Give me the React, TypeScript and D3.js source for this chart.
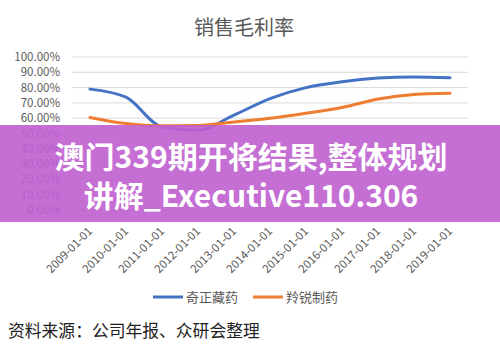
import React from "react";
import * as d3 from "d3";

const categories = ["2009-01-01","2010-01-01","2011-01-01","2012-01-01","2013-01-01","2014-01-01","2015-01-01","2016-01-01","2017-01-01","2018-01-01","2019-01-01"];
const qizheng = [0.79, 0.737, 0.543, 0.522, 0.62, 0.728, 0.80, 0.838, 0.862, 0.87, 0.865];
const lingrui = [0.605, 0.565, 0.55, 0.553, 0.575, 0.60, 0.633, 0.67, 0.725, 0.755, 0.763];
const yTicks = [0, 0.1, 0.2, 0.3, 0.4, 0.5, 0.6, 0.7, 0.8, 0.9, 1.0];
const seriesNames = ["奇正藏药", "羚锐制药"];
const seriesColors = ["#4472C4", "#ED7D31"];

export default function App() {
  const W = 500, H = 351;
  const x = d3.scaleBand<string>().domain(categories).range([72, 468]);
  const y = d3.scaleLinear().domain([0, 1]).range([210, 57]);
  const line = d3.line<number>()
    .x((_, i) => (x(categories[i]) as number) + x.bandwidth() / 2)
    .y((d) => y(d))
    .curve(d3.curveMonotoneX);
  const fmt = d3.format(".2%");
  const series = [qizheng, lingrui];
  const font = "'Microsoft YaHei','Noto Sans CJK SC','Noto Sans',sans-serif";
  return (
    <svg width={W} height={H} style={{ position: "absolute", left: 0, top: 0, background: "#fff" }} fontFamily={font}>
      <rect x={0} y={0} width={W} height={H} fill="#fff" />
      <text x={244} y={35} textAnchor="middle" fontSize={20} fill="#595959">销售毛利率</text>
      {yTicks.map((t) => (
        <g key={t}>
          <line x1={72} x2={468} y1={y(t)} y2={y(t)} stroke={t === 0 ? "#BFBFBF" : "#D9D9D9"} strokeWidth={1} />
          <text x={60} y={y(t) + 4} textAnchor="end" fontSize={11.5} fill="#595959">{fmt(t)}</text>
        </g>
      ))}
      {categories.concat([""]).map((_, i) => {
        const xx = 72 + i * x.step();
        return <line key={"t" + i} x1={xx} x2={xx} y1={210} y2={215} stroke="#BFBFBF" />;
      })}
      {categories.map((c) => {
        const cx = (x(c) as number) + x.bandwidth() / 2 + 3;
        return (
          <text key={c} transform={`translate(${cx},${232}) rotate(-45)`} textAnchor="end" fontSize={11.5} fill="#595959">{c}</text>
        );
      })}
      {series.map((s, i) => (
        <path key={i} d={line(s) || ""} fill="none" stroke={seriesColors[i]} strokeWidth={3} strokeLinecap="round" />
      ))}
      {seriesNames.map((n, i) => {
        const lx = i === 0 ? 153 : 253;
        return (
          <g key={n}>
            <line x1={lx} x2={lx + 30} y1={297} y2={297} stroke={seriesColors[i]} strokeWidth={3} />
            <text x={lx + 33} y={302} fontSize={13} fill="#595959">{n}</text>
          </g>
        );
      })}
      <text x={8} y={337} fontSize={16.8} fill="#222">资料来源：公司年报、众研会整理</text>
      <rect x={0} y={125} width={W} height={97} fill="#BF5FD0" opacity={0.9} />
      <text x={251} y={168} textAnchor="middle" fontSize={30} fontWeight="bold" fill="#fff">澳门339期开将结果,整体规划</text>
      <text x={251} y={207} textAnchor="middle" fontSize={30} fontWeight="bold" fill="#fff">讲解_Executive110.306</text>
    </svg>
  );
}
